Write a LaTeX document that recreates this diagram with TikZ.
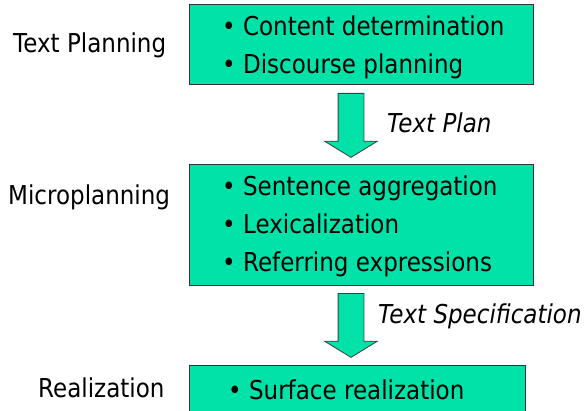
\documentclass[tikz,border=0pt]{standalone}
\usepackage{fontspec}
\setmainfont[FakeStretch=0.885]{DejaVu Sans}
\usetikzlibrary{positioning,shapes.arrows}
\definecolor{stagegreen}{HTML}{00E2A8}

\begin{document}
\begin{tikzpicture}[
    x=1pt, y=-1pt,
    font=\fontsize{26}{38}\selectfont,
    stage/.style={rectangle, draw=black!80, line width=1.2pt, fill=stagegreen, anchor=north west, inner sep=0pt},
    items/.style={align=left, inner sep=0pt, anchor=north west},
    phase/.style={anchor=base west, inner sep=0pt},
    flow/.style={single arrow, draw=black!75, line width=0.8pt, fill=stagegreen, rotate=-90, anchor=tail,
        minimum width=52pt, minimum height=64pt, single arrow head extend=13.5pt, single arrow tip angle=117,
        inner xsep=0pt, inner ysep=12.5pt},
    flowlabel/.style={anchor=base west, inner sep=0pt, font=\fontsize{26}{30}\selectfont\itshape}
]
\useasboundingbox (0,0) rectangle (588,411);

% stages
\node[stage, minimum width=344pt, minimum height=80pt] (plan) at (189,4) {};
\node[stage, minimum width=344pt, minimum height=121pt] (micro) at (189,164) {};
\node[stage, minimum width=336pt, minimum height=80pt] (real) at (189,365) {};

\node[items, below right=12pt and 33pt of plan.north west] (plantext)
    {\textbullet\ Content determination\\ \textbullet\ Discourse planning};
\node[items, below right=12pt and 33pt of micro.north west] (microtext)
    {\textbullet\ Sentence aggregation\\ \textbullet\ Lexicalization\\ \textbullet\ Referring expressions};
\node[items, below right=15pt and 39pt of real.north west] (realtext)
    {\textbullet\ Surface realization};

% phase names
\node[phase] (planname) at (13,53) {Text Planning};
\node[phase] (microname) at (8,205) {Microplanning};
\node[phase] (realname) at (38,397) {Realization};

% block arrows between stages
\node[flow] (planflow) at (351,93) {};
\node[flow] (microflow) at (351,293) {};
\node[flowlabel] (planlbl) at (387,133) {Text Plan};
\node[flowlabel] (speclbl) at (378,323) {Text Specification};

\end{tikzpicture}
\end{document}
